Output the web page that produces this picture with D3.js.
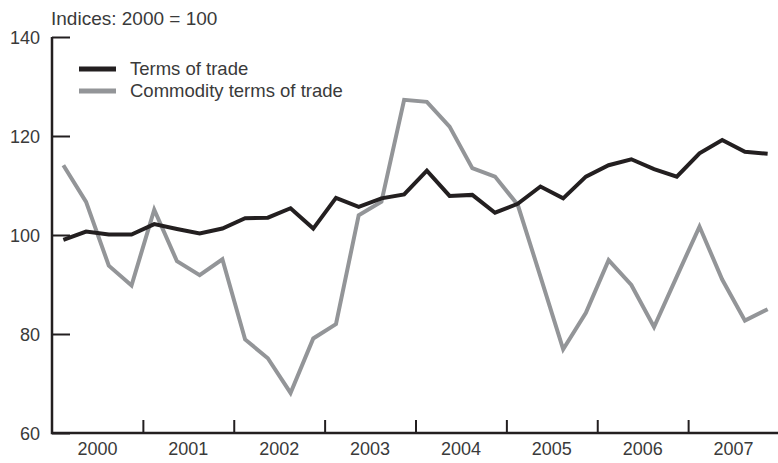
<!DOCTYPE html>
<html><head><meta charset="utf-8">
<script src="https://cdn.jsdelivr.net/npm/d3@7"></script>
<style>body{margin:0;background:#fff}svg{display:block}text{font-family:"Liberation Sans",Arial,sans-serif;fill:#3a3a3a}</style>
</head><body><svg id="c" width="778" height="463"></svg>
<script>
const years = ["2000","2001","2002","2003","2004","2005","2006","2007"];
const yTicks = [60,80,100,120,140];
const termsOfTrade = [99.0,100.7,100.1,100.1,102.2,101.2,100.3,101.3,103.4,103.5,105.4,101.3,107.5,105.7,107.4,108.2,
  113.0,107.9,108.1,104.5,106.3,109.8,107.4,111.8,114.1,115.3,113.3,111.8,116.5,119.2,116.8,116.4];
const commodityTerms = [114.1,106.7,93.8,89.8,105.1,94.7,91.9,95.1,78.9,75.1,68.1,79.1,82.0,104.0,106.7,127.3,
  126.9,121.9,113.5,111.8,106.1,91.6,76.9,84.3,94.9,89.9,81.4,91.6,101.7,91.0,82.7,85.0];
const seriesNames = ["Terms of trade","Commodity terms of trade"];
const colors = ["#231f20","#939598"];

const svg = d3.select("#c");
const L = 52, R = 779, T = 37, B = 433;
const x = d3.scaleLinear().domain([0, years.length*4]).range([L, R]);
const y = d3.scaleLinear().domain([60,140]).range([B, T]);

const yAxis = d3.axisRight(y).tickValues(yTicks).tickSize(18).tickFormat("");
const gy = svg.append("g").attr("transform",`translate(${L},0)`).call(yAxis);
gy.select(".domain").remove();
gy.selectAll(".tick line").attr("stroke","#231f20").attr("stroke-width",2);
svg.append("g").selectAll("text").data(yTicks).join("text")
  .attr("x",40).attr("y",d=>y(d)+6.5).attr("text-anchor","end").attr("font-size",18).text(d=>d);

const bounds = d3.range(1, years.length);
const xAxis = d3.axisTop(x).tickValues(bounds.map(b=>b*4)).tickSize(13).tickFormat("");
const gx = svg.append("g").attr("transform",`translate(0,${B})`).call(xAxis);
gx.select(".domain").remove();
gx.selectAll(".tick line").attr("stroke","#231f20").attr("stroke-width",2);
svg.append("g").selectAll("text").data(years).join("text")
  .attr("x",(d,i)=>x(i*4+2)).attr("y",455).attr("text-anchor","middle").attr("font-size",18).text(d=>d);

svg.append("path").attr("d",`M${L},${T}V${B}H${R}`).attr("fill","none").attr("stroke","#231f20").attr("stroke-width",2.5);

svg.append("text").attr("x",51).attr("y",25).attr("font-size",19).text("Indices: 2000 = 100");

const line = d3.line().x((d,i)=>x(i+0.5)).y(d=>y(d));
[commodityTerms, termsOfTrade].forEach((s,k)=>{
  const idx = k===0?1:0;
  svg.append("path").datum(s).attr("d",line).attr("fill","none")
    .attr("stroke",colors[idx]).attr("stroke-width",4).attr("stroke-linejoin","miter");
});

seriesNames.forEach((n,i)=>{
  const yy = 69 + i*22;
  svg.append("line").attr("x1",79).attr("x2",116).attr("y1",yy).attr("y2",yy)
    .attr("stroke",colors[i]).attr("stroke-width",5);
  svg.append("text").attr("x",130).attr("y",yy+6).attr("font-size",18.5).text(n);
});
</script></body></html>
